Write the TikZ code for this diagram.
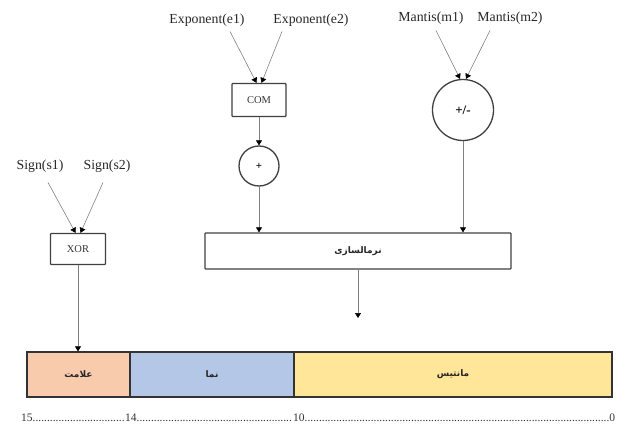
\documentclass[tikz,border=0pt]{standalone}
\usepackage{fontspec}
\setmainfont{Liberation Serif}
\newfontfamily\arabicfont[Script=Arabic]{DejaVu Sans}
\TeXXeTstate=1
\usetikzlibrary{arrows.meta}
\begin{document}
\begin{tikzpicture}[x=1pt,y=-1pt,
  lbl/.style={font=\fontsize{13.8}{15}\selectfont, text=black!85, inner sep=1pt},
  box/.style={draw=black!75, line width=1.3pt, rounded corners=0.8pt, font=\fontsize{10.5}{12}\selectfont, text=black!80, inner sep=0pt},
  circ/.style={draw=black!75, line width=1.3pt, circle, inner sep=0pt, font=\bfseries\fontsize{11}{12}\selectfont},
  conn/.style={draw=black!50, line width=0.6pt, -{Triangle[width=6pt,length=5pt,color=black]}},
  seg/.style={draw=black!80, line width=1.2pt, minimum height=45pt, inner sep=0pt},
  fa/.style={font=\arabicfont\bfseries\fontsize{9}{10}\selectfont, text=black!85}
]
\useasboundingbox (0,0) rectangle (626,425);

% labels
\node[lbl] (s1) at (40,166) {Sign(s1)};
\node[lbl] (s2) at (107,166) {Sign(s2)};
\node[lbl] (e1) at (207,20) {Exponent(e1)};
\node[lbl] (e2) at (311,20) {Exponent(e2)};
\node[lbl] (m1) at (431,18) {Mantis(m1)};
\node[lbl] (m2) at (510,18) {Mantis(m2)};

% operators
\node[box, minimum width=55pt, minimum height=31pt] (xor) at (78,249) {XOR};
\node[box, minimum width=54pt, minimum height=33pt] (com) at (259,100) {COM};
\node[circ, minimum size=40pt] (plus) at (259,166) {+};
\node[circ, minimum size=61pt, font=\bfseries\fontsize{13}{14}\selectfont] (pm) at (463,110) {+/-};
\node[box, minimum width=306pt, minimum height=36pt, fa] (norm) at (358,251) {\beginR نرمالسازی\endR};
\coordinate (nout) at (358,318);

% result bar
\node[seg, fill={rgb,255:red,248;green,203;blue,173}, minimum width=103pt, fa] (sgn) at (78.5,374.5) {\beginR علامت\endR};
\node[seg, fill={rgb,255:red,180;green,199;blue,231}, minimum width=164pt, fa] (exp) at (212,374.5) {\beginR نما\endR};
\node[seg, fill={rgb,255:red,255;green,230;blue,153}, minimum width=318pt, fa] (man) at (453,374.5) {\beginR مانتیس\endR};

% bit positions
\node[anchor=west, inner sep=0pt, text=black!80, font=\fontsize{11.5}{13}\selectfont] (bits) at (21,418)
  {\hbox to 104pt{15\leaders\hbox{.}\hfill}\hbox to 168pt{14\leaders\hbox{.}\hfill}\hbox to 322pt{10\leaders\hbox{.}\hfill 0}};

% connectors
\draw[conn] ([xshift=8pt,yshift=-9pt]s1.south) -- ([xshift=-2.5pt]xor.north);
\draw[conn] ([xshift=-4pt,yshift=-9pt]s2.south) -- ([xshift=2.5pt]xor.north);
\draw[conn] ([xshift=23pt,yshift=-4pt]e1.south) -- ([xshift=-2.5pt]com.north);
\draw[conn] ([xshift=-29pt,yshift=-4pt]e2.south) -- ([xshift=2.5pt]com.north);
\draw[conn] ([xshift=5pt,yshift=-5pt]m1.south) -- ([xshift=-3pt]pm.north);
\draw[conn] ([xshift=-20pt,yshift=-5pt]m2.south) -- ([xshift=3pt]pm.north);
\draw[conn] (com.south) -- (plus.north);
\draw[conn] (plus.south) -- (plus.south |- norm.north);
\draw[conn] (pm.south) -- (pm.south |- norm.north);
\draw[conn] (norm.south) -- (nout);
\draw[conn] (xor.south) -- (xor.south |- sgn.north);
\end{tikzpicture}
\end{document}
